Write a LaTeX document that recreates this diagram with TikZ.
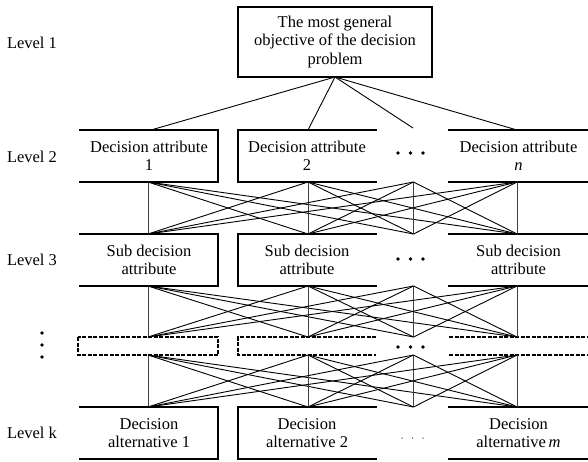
\documentclass[tikz,border=0pt]{standalone}
\usepackage{fontspec}
\setmainfont{Liberation Serif}
\begin{document}
\begin{tikzpicture}[x=1pt,y=-1pt,
  txt/.style={inner sep=0pt,outer sep=0pt,align=center,font=\fontsize{16.5}{18.5}\selectfont},
  box/.style={txt,draw=none,minimum height=52pt},
  frame/.style={line width=1.2pt,line cap=rect},
  dframe/.style={line width=1.3pt,dash pattern=on 4pt off 1.5pt},
  conn/.style={line width=0.9pt},
  vconn/.style={line width=0.7pt,black!75},
  bigdot/.style={fill=black,draw=none,circle,minimum size=3.8pt,inner sep=0pt},
  smalldot/.style={fill=black!70,draw=none,circle,minimum size=1.5pt,inner sep=0pt},
  lab/.style={txt,anchor=west}]
\useasboundingbox (0,0) rectangle (588,461);

% level labels
\node[lab] (l1) at (7,43) {Level 1};
\node[lab] (l2) at (7,157) {Level 2};
\node[lab] (l3) at (7,260) {Level 3};
\node[lab] (lk) at (7,433) {Level k};
\node[bigdot] (vd1) at (42,333) {};
\node[bigdot] (vd2) at (42,345) {};
\node[bigdot] (vd3) at (42,357) {};

% top box
\node[txt,draw,line width=1.2pt,minimum width=194pt,minimum height=70pt] (top) at (335,42)
  {The most general\\objective of the decision\\problem};

% level 2
\node[box,minimum width=138pt] (a1) at (149,156) {Decision attribute\\1};
\node[box,minimum width=138pt] (a2) at (307,156) {Decision attribute\\2};
\node[box,minimum width=139pt] (an) at (518.5,156) {Decision attribute\\\textit{n}};
% level 3
\node[box,minimum width=138pt] (s1) at (149,260) {Sub decision\\attribute};
\node[box,minimum width=138pt] (s2) at (307,260) {Sub decision\\attribute};
\node[box,minimum width=139pt] (sn) at (518.5,260) {Sub decision\\attribute};
% dashed row
\node[txt,minimum width=140pt,minimum height=18pt] (d1) at (148,346) {};
\node[txt,minimum width=138pt,minimum height=18pt] (d2) at (307,346) {};
\node[txt,minimum width=139pt,minimum height=18pt] (dn) at (518.5,346) {};
% level k
\node[box,minimum width=138pt] (k1) at (149,433) {Decision\\alternative 1};
\node[box,minimum width=138pt] (k2) at (307,433) {Decision\\alternative 2};
\node[box,minimum width=139pt] (kn) at (518.5,433) {Decision\\alternative\,\textit{m}};

% frames
\foreach \b in {a1,s1,k1}
  \draw[frame] (\b.north west) -- (\b.north east) -- (\b.south east) -- (\b.south west);
\foreach \b in {a2,s2,k2}
  \draw[frame] (\b.north east) -- (\b.north west) -- (\b.south west) -- (\b.south east);
\foreach \b in {an,sn,kn}
  {\draw[frame] (\b.north west) -- (\b.north east);
   \draw[frame] (\b.south west) -- (\b.south east);}
\draw[dframe] (d1.north west) rectangle (d1.south east);
\draw[dframe] (d2.north east) -- (d2.north west) -- (d2.south west) -- (d2.south east);
\draw[dframe] (dn.north west) -- (dn.north east);
\draw[dframe] (dn.south west) -- (dn.south east);

% ellipsis dots
\foreach \y/\r in {153/p2,259/p3,347/pd} {
  \node[bigdot] (\r a) at (398,\y) {};
  \node[bigdot] (\r b) at (410.5,\y) {};
  \node[bigdot] (\r c) at (423,\y) {};
}
\node[smalldot] (pka) at (402,438) {};
\node[smalldot] (pkb) at (412.5,438) {};
\node[smalldot] (pkc) at (423,438) {};

% column connection points
\foreach \n/\y in {A/182,S/234,T/286,D/337,E/355,K/407} {
  \coordinate (\n1) at (148,\y);
  \coordinate (\n2) at (308,\y);
  \coordinate (\n3) at (413.5,\y);
  \coordinate (\n4) at (517,\y);
}
\coordinate (topb) at (335,77);
\coordinate (q1) at (151,130);
\coordinate (q2) at (308,130);
\coordinate (q3) at (413,128);
\coordinate (q4) at (517,130);
\foreach \i in {1,...,4} \draw[conn] (topb) -- (q\i);

\foreach \u/\l in {A/S,T/D,E/K}
  \foreach \i in {1,...,4}
    \foreach \j in {1,...,4} {
      \ifnum\i=\j
        \draw[vconn] (\u\i) -- (\l\j);
      \else
        \draw[conn] (\u\i) -- (\l\j);
      \fi
    }
\end{tikzpicture}
\end{document}
